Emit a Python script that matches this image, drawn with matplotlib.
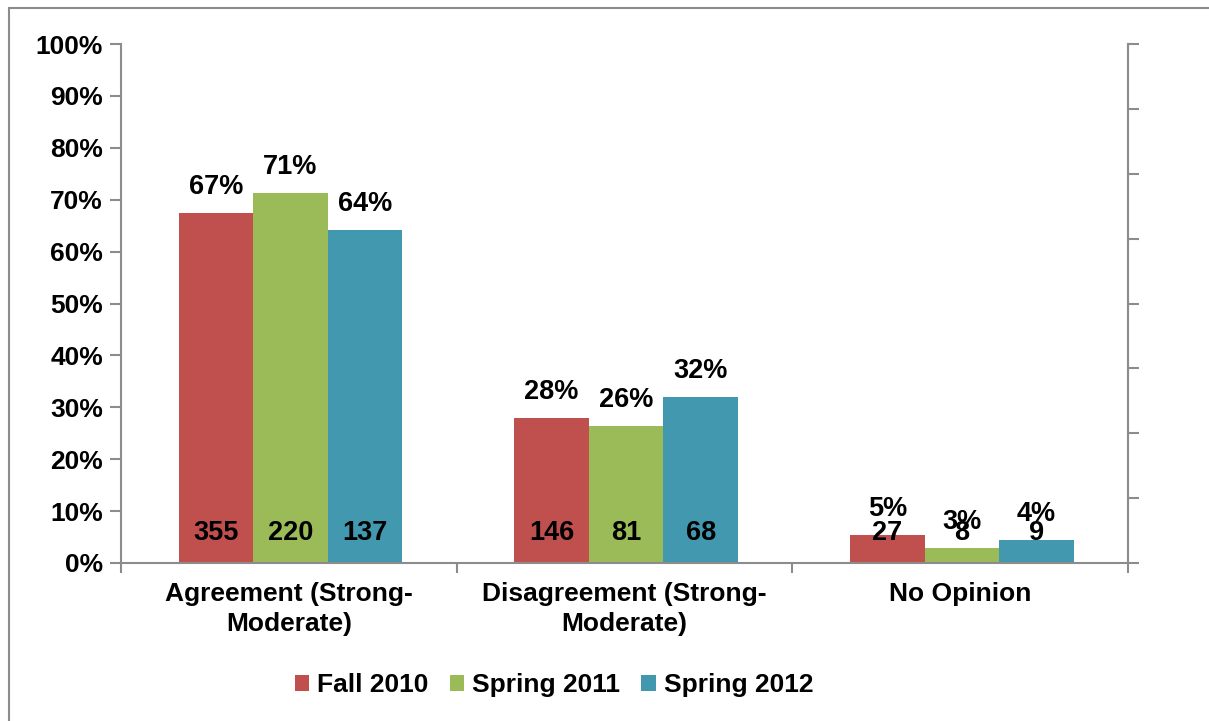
import numpy as np
import matplotlib.pyplot as plt
from matplotlib.patches import Rectangle

# chart data
categories = ['Agreement (Strong-\nModerate)', 'Disagreement (Strong-\nModerate)', 'No Opinion']
series = ['Fall 2010', 'Spring 2011', 'Spring 2012']
pct_fall_2010 = [0.674, 0.279, 0.054]
pct_spring_2011 = [0.713, 0.264, 0.029]
pct_spring_2012 = [0.642, 0.319, 0.044]
count_fall_2010 = [355, 146, 27]
count_spring_2011 = [220, 81, 8]
count_spring_2012 = [137, 68, 9]
y_ticks = [0, 10, 20, 30, 40, 50, 60, 70, 80, 90, 100]

colors = ['#C0504D', '#9BBB59', '#4198AF']
grey = '#8C8C8C'
fs = 19

plt.rcParams['font.family'] = ['Liberation Sans', 'DejaVu Sans']
plt.rcParams['font.weight'] = 'bold'

W, H = 1209, 721
fig = plt.figure(figsize=(W / 100, H / 100), dpi=100)

# outer chart frame
fig.patches.append(Rectangle((9 / W, -0.1), 1.2, 1.1 - 8 / H, transform=fig.transFigure,
                             fill=False, edgecolor=grey, linewidth=1.5))

ax = fig.add_axes([121 / W, 1 - 563 / H, (1128 - 121) / W, (563 - 44) / H])

pcts = [pct_fall_2010, pct_spring_2011, pct_spring_2012]
counts = [count_fall_2010, count_spring_2011, count_spring_2012]
x = np.arange(len(categories))
bw = 0.222
for i in range(3):
    xs = x + (i - 1) * bw + 0.005
    ax.bar(xs, pcts[i], width=bw, color=colors[i], label=series[i], zorder=2)
    for xi, p, c in zip(xs, pcts[i], counts[i]):
        ax.text(xi, p + 0.05, f'{round(p * 100):.0f}%', ha='center', va='center',
                fontsize=fs + 0.5, fontweight='bold')
        ax.text(xi, 0.058, str(c), ha='center', va='center',
                fontsize=fs + 0.5, fontweight='bold')

ax.set_xlim(-0.5, 2.5)
ax.set_ylim(0, 1)
ax.set_yticks([t / 100 for t in y_ticks])
ax.set_yticklabels([f'{t}%' for t in y_ticks], fontsize=fs, fontweight='bold')
ax.set_xticks(x)
ax.set_xticklabels(categories, fontsize=fs, fontweight='bold', linespacing=1.3)
ax.tick_params(axis='x', length=0, pad=14)
ax.set_xticks([-0.5, 0.5, 1.5, 2.5], minor=True)
ax.tick_params(axis='x', which='minor', length=7, color=grey, width=1.5, direction='out')
ax.tick_params(axis='y', length=8, color=grey, width=1.5, direction='out', pad=5)
ax.spines['top'].set_visible(False)
for s in ['left', 'bottom', 'right']:
    ax.spines[s].set_color(grey)
    ax.spines[s].set_linewidth(1.5)

# secondary axis on the right, unlabeled ticks
ax2 = ax.twinx()
ax2.set_ylim(0, 8)
ax2.set_yticks(range(9))
ax2.set_yticklabels([])
ax2.tick_params(axis='y', length=8, color=grey, width=1.5, direction='out')
for s in ['top', 'left', 'bottom']:
    ax2.spines[s].set_visible(False)
ax2.spines['right'].set_color(grey)
ax2.spines['right'].set_linewidth(1.5)

handles, labels = ax.get_legend_handles_labels()
fig.legend(handles, labels, loc='center', bbox_to_anchor=(554 / W, 1 - 685 / H), ncol=3,
           frameon=False, handlelength=0.55, handleheight=0.55,
           handletextpad=0.3, columnspacing=0.8, prop={'weight': 'bold', 'size': fs})

fig.savefig('out.png', dpi=100)
